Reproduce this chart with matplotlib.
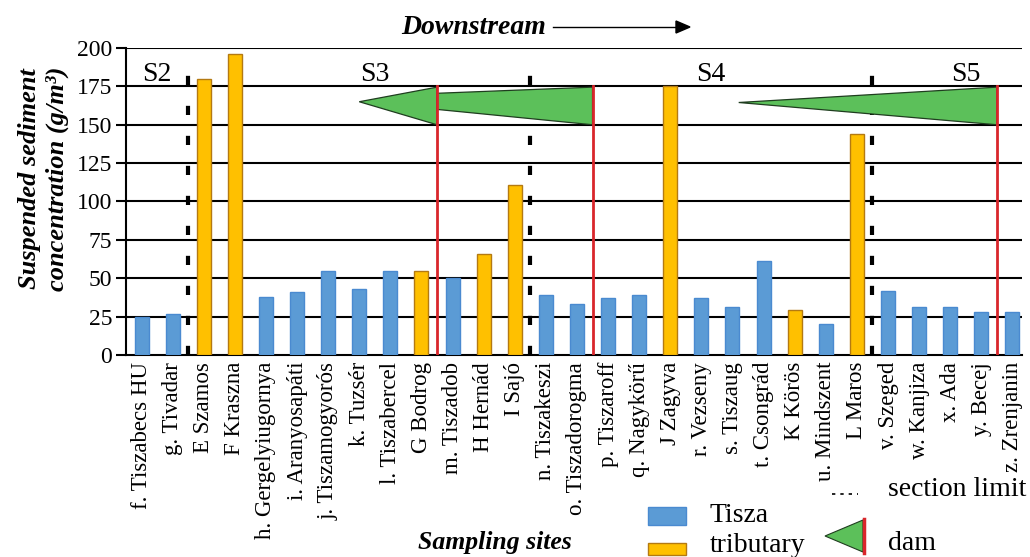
import numpy as np
import matplotlib.pyplot as plt
from matplotlib.patches import Rectangle, Polygon
from matplotlib.lines import Line2D

plt.rcParams['font.family'] = ['Liberation Serif', 'DejaVu Serif']

sites = ['f. Tiszabecs HU', 'g. Tivadar', 'E Szamos', 'F Kraszna', 'h. Gergelyiugornya',
         'i. Aranyosapáti', 'j. Tiszamogyorós', 'k. Tuzsér', 'l. Tiszabercel', 'G Bodrog',
         'm. Tiszadob', 'H Hernád', 'I Sajó', 'n. Tiszakeszi', 'o. Tiszadorogma',
         'p. Tiszaroff', 'q. Nagykörű', 'J Zagyva', 'r. Vezseny', 's. Tiszaug',
         't. Csongrád', 'K Körös', 'u. Mindszent', 'L Maros', 'v. Szeged',
         'w. Kanjiza', 'x. Ada', 'y. Becej', 'z. Zrenjanin']
conc = [25, 27, 180, 196, 38, 41, 55, 43, 55, 55,
        50, 66, 111, 39, 33, 37, 39, 175, 37, 31,
        61, 29, 20, 144, 42, 31, 31, 28, 28]
# T = Tisza, t = tributary
kind = ['T', 'T', 't', 't', 'T', 'T', 'T', 'T', 'T', 't',
        'T', 't', 't', 'T', 'T', 'T', 'T', 't', 'T', 'T',
        'T', 't', 'T', 't', 'T', 'T', 'T', 'T', 'T']

section_limits = [1.5, 12.5, 23.5]
dams = [9.5, 14.5, 27.5]
sections = ['S2', 'S3', 'S4', 'S5']
section_x = [0.5, 7.5, 18.3, 26.5]
# dam reservoir wedges (x, y) points
wedges = [
    [(7.0, 165), (9.5, 174.5), (9.5, 150)],
    [(9.5, 170.5), (14.5, 174.5), (14.5, 150), (9.5, 160)],
    [(19.2, 164.5), (27.5, 174.5), (27.5, 150)],
]

blue = '#5b9bd5'
orange = '#ffc000'
green = '#5cc05a'

fig = plt.figure(figsize=(10.3, 5.57), dpi=100)
ax = fig.add_axes([0.1223, 0.3627, 0.8697, 0.5511])

x = np.arange(len(sites))
cols = [blue if k == 'T' else orange for k in kind]
edges = ['#4a8ad0' if k == 'T' else '#b47a12' for k in kind]
ax.bar(x, conc, width=0.45, color=cols, edgecolor=edges, linewidth=1.0, zorder=3)

for y in range(25, 201, 25):
    ax.axhline(y, color='black', lw=1.5, zorder=2)

for s in section_limits:
    ax.plot([s, s], [0, 192], color='black', lw=3, ls=(0, (2.2, 5)), zorder=4)
for d in dams:
    ax.plot([d, d], [0, 175], color='#d9262b', lw=2, zorder=5)
for w in wedges:
    ax.add_patch(Polygon(w, closed=True, facecolor=green, edgecolor='#1f3d1f', lw=0.9, zorder=4))

for lab, sx in zip(sections, section_x):
    ax.text(sx, 183, lab, fontsize=20, ha='center', va='center')

ax.set_xlim(-0.5, 28.3)
ax.set_ylim(0, 200)
ax.set_yticks(range(0, 201, 25))
ax.set_xticks(x)
ax.set_xticklabels(sites, rotation=90, fontsize=16.5)
ax.tick_params(axis='y', labelsize=17, length=7, width=1.5, direction='out', pad=3)
ax.tick_params(axis='x', length=0, pad=5)
for sp in ['top', 'right']:
    ax.spines[sp].set_visible(False)
ax.spines['left'].set_linewidth(1.5)
ax.spines['bottom'].set_linewidth(1.5)

ax.set_ylabel('Suspended sediment\nconcentration (g/m³)', fontsize=19,
              fontweight='bold', fontstyle='italic', linespacing=1.25)
ax.yaxis.set_label_coords(-0.064, 0.575)

# top annotation
fig.text(0.46, 1 - 27 / 557, 'Downstream', fontsize=20, fontweight='bold',
         fontstyle='italic', ha='center', va='center')
fig.add_artist(Line2D([553 / 1030, 680 / 1030], [1 - 27 / 557] * 2, color='black', lw=1))
fig.add_artist(Polygon([(676 / 1030, 1 - 21 / 557), (690 / 1030, 1 - 27 / 557),
                        (676 / 1030, 1 - 33 / 557)], closed=True, color='black',
                       transform=fig.transFigure))

fig.text(495 / 1030, 1 - 543 / 557, 'Sampling sites', fontsize=18.5, fontweight='bold',
         fontstyle='italic', ha='center', va='center')

# legend
tf = fig.transFigure
fig.add_artist(Rectangle((648 / 1030, 1 - 525 / 557), 38 / 1030, 18 / 557,
                         facecolor=blue, edgecolor='#4a8ad0', transform=tf))
fig.add_artist(Rectangle((648 / 1030, 1 - 555 / 557), 38 / 1030, 12 / 557,
                         facecolor=orange, edgecolor='#b47a12', transform=tf))
fig.text(710 / 1030, 1 - 516 / 557, 'Tisza', fontsize=20, va='center')
fig.text(710 / 1030, 1 - 546 / 557, 'tributary', fontsize=20, va='center')
fig.add_artist(Line2D([832 / 1030, 858 / 1030], [1 - 494 / 557] * 2, color='black',
                      lw=1.2, ls=(0, (2, 3))))
fig.text(888 / 1030, 1 - 489 / 557, 'section limit', fontsize=20, va='center')
fig.add_artist(Polygon([(825 / 1030, 1 - 536 / 557), (863 / 1030, 1 - 520 / 557),
                        (863 / 1030, 1 - 552 / 557)], closed=True, facecolor=green,
                       edgecolor='#1f3d1f', lw=0.8, transform=tf))
fig.add_artist(Line2D([864 / 1030, 864 / 1030], [1 - 519 / 557, 1 - 553 / 557],
                      color='#d9262b', lw=2.5))
fig.text(888 / 1030, 1 - 543 / 557, 'dam', fontsize=20, va='center')

fig.savefig('out.png', dpi=100)
